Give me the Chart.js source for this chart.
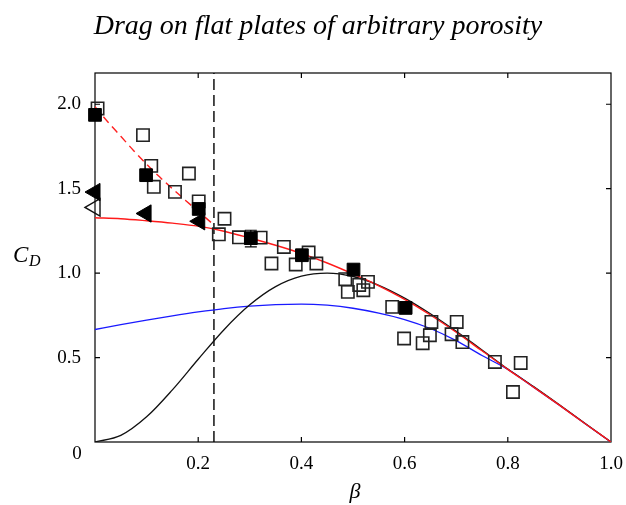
<!DOCTYPE html>
<html>
<head>
<meta charset="utf-8">
<script src="https://cdn.jsdelivr.net/npm/chart.js@4.4.1/dist/chart.umd.min.js"></script>
<style>
  html, body { margin: 0; padding: 0; background: #fff; }
  #wrap { width: 626px; height: 505px; }
</style>
</head>
<body>
<div id="wrap"><canvas id="chart" width="626" height="505"></canvas></div>
<script>
// Model curves, sampled along beta
const betaGrid = [0, 0.05, 0.1, 0.15, 0.2, 0.25, 0.3, 0.35, 0.4, 0.45, 0.5,
  0.55, 0.6, 0.65, 0.7, 0.75, 0.8, 0.85, 0.9, 0.95, 1.0];
const cdRed = [1.328, 1.322, 1.31, 1.296, 1.278, 1.248, 1.208, 1.165, 1.117, 1.06, 0.995,
  0.925, 0.845, 0.752, 0.65, 0.54, 0.43, 0.325, 0.218, 0.108, 0];
const cdBlack = [0, 0.039, 0.149, 0.309, 0.49, 0.665, 0.812, 0.92, 0.982, 1.0, 0.98,
  0.928, 0.852, 0.759, 0.655, 0.545, 0.432, 0.328, 0.22, 0.11, 0];
const cdBlue = [0.666, 0.695, 0.722, 0.747, 0.77, 0.79, 0.805, 0.814, 0.817, 0.81, 0.792,
  0.763, 0.725, 0.672, 0.6, 0.512, 0.43, 0.325, 0.218, 0.108, 0];

// Red dashed branch (low porosity)
const betaDashed = [0, 0.025, 0.05, 0.075, 0.1, 0.125, 0.15, 0.175, 0.2, 0.225];
const cdDashed = [1.985, 1.895, 1.81, 1.725, 1.645, 1.57, 1.5, 1.432, 1.366, 1.30];

// Critical porosity (vertical dashed line)
const betaCrit = 0.2305;

// Experimental data
const openSqBeta = [0.005, 0.093, 0.109, 0.114, 0.182, 0.155, 0.201, 0.251, 0.240, 0.279,
  0.321, 0.366, 0.414, 0.342, 0.389, 0.429, 0.485, 0.490, 0.520, 0.529, 0.512,
  0.576, 0.599, 0.635, 0.652, 0.649, 0.701, 0.691, 0.712, 0.775, 0.825, 0.810];
const openSqCd = [1.975, 1.817, 1.635, 1.511, 1.59, 1.481, 1.425, 1.322, 1.23, 1.212,
  1.21, 1.155, 1.122, 1.057, 1.051, 1.057, 0.964, 0.889, 0.899, 0.948, 0.93,
  0.80, 0.613, 0.585, 0.711, 0.632, 0.711, 0.638, 0.592, 0.474, 0.468, 0.296];

const fillSqBeta = [0.0, 0.099, 0.201, 0.302, 0.401, 0.501, 0.602];
const fillSqCd = [1.937, 1.58, 1.38, 1.207, 1.106, 1.021, 0.794];

const errBeta = [0.302];
const errLow = [1.155];
const errHigh = [1.254];

const fillTriBeta = [0.0, 0.099, 0.203];
const fillTriCd = [1.48, 1.353, 1.307];
const openTriBeta = [0.0];
const openTriCd = [1.389];

// Axis ticks
const xTicks = [0, 0.2, 0.4, 0.6, 0.8, 1.0];
const yTicks = [0.5, 1.0, 1.5, 2.0];

const serif = "'Liberation Serif', 'DejaVu Serif', serif";

function pts(xs, ys) {
  return xs.map((x, i) => ({ x: x, y: ys[i] }));
}

// Frame, inward ticks, error bars and extra labels
const decorPlugin = {
  id: "decor",
  beforeDatasetsDraw(chart) {
    const { ctx, chartArea: a, scales } = chart;
    const xs = scales.x, ys = scales.y;
    ctx.save();
    ctx.strokeStyle = "#000";
    ctx.lineWidth = 1.2;
    ctx.strokeRect(a.left, a.top, a.right - a.left, a.bottom - a.top);
    ctx.beginPath();
    xTicks.slice(1, -1).forEach((v) => {
      const px = xs.getPixelForValue(v);
      ctx.moveTo(px, a.bottom); ctx.lineTo(px, a.bottom - 5);
      ctx.moveTo(px, a.top); ctx.lineTo(px, a.top + 5);
    });
    yTicks.forEach((v) => {
      const py = ys.getPixelForValue(v);
      ctx.moveTo(a.left, py); ctx.lineTo(a.left + 5, py);
      ctx.moveTo(a.right, py); ctx.lineTo(a.right - 5, py);
    });
    ctx.stroke();
    ctx.restore();
  },
  afterDatasetsDraw(chart) {
    const { ctx, scales } = chart;
    const xs = scales.x, ys = scales.y;
    ctx.save();
    ctx.strokeStyle = "#000";
    ctx.lineWidth = 1.2;
    ctx.beginPath();
    errBeta.forEach((b, i) => {
      const px = xs.getPixelForValue(b);
      const lo = ys.getPixelForValue(errLow[i]);
      const hi = ys.getPixelForValue(errHigh[i]);
      ctx.moveTo(px, lo); ctx.lineTo(px, hi);
      ctx.moveTo(px - 6, lo); ctx.lineTo(px + 6, lo);
      ctx.moveTo(px - 6, hi); ctx.lineTo(px + 6, hi);
    });
    ctx.stroke();
    ctx.restore();
  },
  afterDraw(chart) {
    const { ctx, chartArea: a, scales } = chart;
    ctx.save();
    ctx.fillStyle = "#000";
    // title
    ctx.font = "italic 28px " + serif;
    ctx.textAlign = "center";
    ctx.textBaseline = "alphabetic";
    ctx.fillText("Drag on flat plates of arbitrary porosity", 318, 34);
    // shared origin label
    ctx.font = "19px " + serif;
    ctx.textBaseline = "top";
    ctx.fillText("0", 77, scales.x.top + 3);
    // x axis title
    ctx.font = "italic 22px " + serif;
    ctx.textBaseline = "alphabetic";
    ctx.fillText("\u03b2", (a.left + a.right) / 2 + 2, 498);
    // y axis title C_D
    ctx.textAlign = "left";
    ctx.font = "italic 23px " + serif;
    ctx.fillText("C", 13, 262);
    ctx.font = "italic 16px " + serif;
    ctx.fillText("D", 29, 266);
    ctx.restore();
  }
};

const ctx = document.getElementById("chart").getContext("2d");
new Chart(ctx, {
  type: "scatter",
  data: {
    datasets: [
      {
        label: "filled triangles",
        data: pts(fillTriBeta, fillTriCd),
        pointStyle: "triangle",
        rotation: -90,
        pointRadius: 10,
        backgroundColor: "#000",
        borderColor: "#000",
        borderWidth: 1,
        clip: false
      },
      {
        label: "open triangles",
        data: pts(openTriBeta, openTriCd),
        pointStyle: "triangle",
        rotation: -90,
        pointRadius: 10,
        backgroundColor: "rgba(255,255,255,0)",
        borderColor: "#111",
        borderWidth: 1.4,
        clip: false
      },
      {
        label: "filled squares",
        data: pts(fillSqBeta, fillSqCd),
        pointStyle: "rect",
        pointRadius: 9,
        backgroundColor: "#000",
        borderColor: "#000",
        borderWidth: 1,
        clip: false
      },
      {
        label: "open squares",
        data: pts(openSqBeta, openSqCd),
        pointStyle: "rect",
        pointRadius: 8.7,
        backgroundColor: "rgba(255,255,255,0)",
        borderColor: "#222",
        borderWidth: 1.6,
        clip: false
      },
      {
        label: "dashed model",
        type: "line",
        data: pts(betaDashed, cdDashed),
        borderColor: "#ff2020",
        borderWidth: 1.4,
        borderDash: [8, 5],
        pointRadius: 0,
        cubicInterpolationMode: "monotone"
      },
      {
        label: "red model",
        type: "line",
        data: pts(betaGrid, cdRed),
        borderColor: "#ff1a1a",
        borderWidth: 1.4,
        pointRadius: 0,
        cubicInterpolationMode: "monotone"
      },
      {
        label: "black model",
        type: "line",
        data: pts(betaGrid, cdBlack),
        borderColor: "#111",
        borderWidth: 1.3,
        pointRadius: 0,
        cubicInterpolationMode: "monotone"
      },
      {
        label: "blue model",
        type: "line",
        data: pts(betaGrid, cdBlue),
        borderColor: "#1a1aff",
        borderWidth: 1.3,
        pointRadius: 0,
        cubicInterpolationMode: "monotone"
      },
      {
        label: "critical beta",
        type: "line",
        data: [{ x: betaCrit, y: 0 }, { x: betaCrit, y: 2.185 }],
        borderColor: "#000",
        borderWidth: 1.4,
        borderDash: [11, 5],
        pointRadius: 0
      }
    ]
  },
  options: {
    responsive: false,
    animation: false,
    devicePixelRatio: 1,
    layout: { padding: { top: 73, right: 15, left: 0, bottom: 0 } },
    plugins: {
      legend: { display: false },
      tooltip: { enabled: false }
    },
    scales: {
      x: {
        type: "linear",
        min: 0,
        max: 1,
        grid: { display: false },
        border: { display: false },
        ticks: {
          stepSize: 0.2,
          padding: 3,
          color: "#000",
          font: { family: serif, size: 19 },
          callback: (v) => (Math.abs(v) < 1e-9 ? "" : v.toFixed(1))
        },
        afterFit: (scale) => { scale.height = 63; }
      },
      y: {
        type: "linear",
        min: 0,
        max: 2.185,
        grid: { display: false },
        border: { display: false },
        ticks: {
          stepSize: 0.5,
          includeBounds: false,
          padding: 6,
          color: "#000",
          font: { family: serif, size: 19 },
          callback: (v) => (Math.abs(v) < 1e-9 ? "" : v.toFixed(1))
        },
        afterFit: (scale) => { scale.width = 95; }
      }
    }
  },
  plugins: [decorPlugin]
});
</script>
</body>
</html>
